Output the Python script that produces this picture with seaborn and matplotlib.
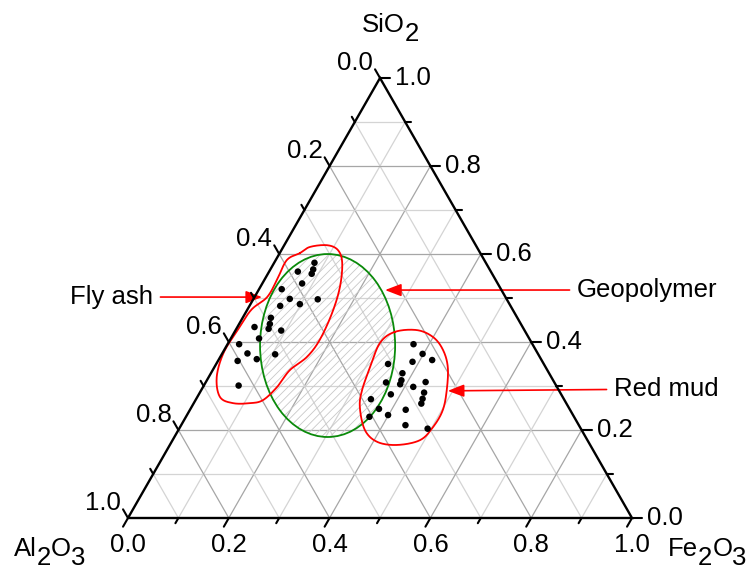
import numpy as np
import pandas as pd
import matplotlib
matplotlib.use("Agg")
import matplotlib.pyplot as plt
import seaborn as sns
from matplotlib.patches import Ellipse

# --- data (mass fractions, Al2O3 = 1 - Fe2O3 - SiO2) ---
fly_fe = [0.080, 0.085, 0.087, 0.057, 0.079, 0.045, 0.072, 0.061, 0.098, 0.128, 0.056,
          0.061, 0.034, 0.064, 0.091, 0.056, 0.023, 0.050, 0.075, 0.106, 0.039, 0.069]
fly_si = [0.580, 0.565, 0.555, 0.560, 0.533, 0.520, 0.498, 0.482, 0.486, 0.497, 0.455,
          0.441, 0.434, 0.430, 0.426, 0.408, 0.395, 0.374, 0.361, 0.372, 0.357, 0.301]

mud_fe = [0.369, 0.398, 0.387, 0.424, 0.341, 0.380, 0.386, 0.388, 0.358, 0.417, 0.436,
          0.381, 0.445, 0.449, 0.452, 0.347, 0.374, 0.364, 0.399, 0.428, 0.445, 0.493]
mud_si = [0.395, 0.373, 0.355, 0.359, 0.350, 0.329, 0.313, 0.304, 0.308, 0.298, 0.309,
          0.281, 0.285, 0.271, 0.260, 0.270, 0.248, 0.230, 0.234, 0.246, 0.211, 0.203]

# region outlines
fly_zone_fe = [0.040, 0.053, 0.085, 0.112, 0.135, 0.158, 0.172, 0.178, 0.172, 0.153, 0.147,
               0.134, 0.112, 0.078, 0.045, 0.016, 0.002, 0.004, 0.008, 0.025, 0.025, 0.022]
fly_zone_si = [0.602, 0.616, 0.620, 0.609, 0.580, 0.525, 0.466, 0.405, 0.366, 0.336, 0.298,
               0.268, 0.261, 0.261, 0.275, 0.320, 0.375, 0.427, 0.473, 0.502, 0.541, 0.586]
mud_zone_fe = [0.318, 0.360, 0.400, 0.434, 0.463, 0.487, 0.502, 0.502, 0.491, 0.451, 0.408,
               0.370, 0.334, 0.319, 0.309, 0.301]
mud_zone_si = [0.423, 0.427, 0.411, 0.382, 0.343, 0.291, 0.245, 0.207, 0.177, 0.166, 0.173,
               0.200, 0.252, 0.291, 0.343, 0.398]
geo_fe, geo_si = 0.200, 0.392
geo_w, geo_h = 0.268, 0.363

ticks = [0.0, 0.2, 0.4, 0.6, 0.8, 1.0]
tick_labels = ["0.0", "0.2", "0.4", "0.6", "0.8", "1.0"]

H = 440 / 504          # triangle height / side in this picture
PX = 1 / 504           # one pixel in data units


def tern(fe, si):
    fe = np.asarray(fe, float)
    si = np.asarray(si, float)
    return fe + si / 2, si * H


def smooth_closed(x, y, n=24):
    pts = np.column_stack([x, y])
    N = len(pts)
    t = np.linspace(0, 1, n, endpoint=False)[:, None]
    segs = []
    for i in range(N):
        p0, p1, p2, p3 = pts[i - 1], pts[i], pts[(i + 1) % N], pts[(i + 2) % N]
        segs.append(0.5 * (2 * p1 + (-p0 + p2) * t + (2 * p0 - 5 * p1 + 4 * p2 - p3) * t ** 2
                           + (-p0 + 3 * p1 - 3 * p2 + p3) * t ** 3))
    out = np.vstack(segs + [segs[0][:1]])
    return out[:, 0], out[:, 1]


sns.set_style("white")
plt.rcParams['font.family'] = ['Liberation Sans', 'DejaVu Sans']
plt.rcParams['text.color'] = 'black'
plt.rcParams['hatch.linewidth'] = 0.6
FS = 18.5

fig = plt.figure(figsize=(7.52, 5.73), dpi=100)
ax = fig.add_axes([128 / 752, 55 / 573, 504 / 752, 440 / 573])
ax.set_xlim(0, 1)
ax.set_ylim(0, H)
ax.axis('off')

# grid
for k in range(1, 10):
    v = k / 10
    col = '#a6a6a6' if k % 2 == 0 else '#d4d4d4'
    for fe_pair, si_pair in [((0, 1 - v), (v, v)), ((v, v), (0, 1 - v)), ((1 - v, 0), (0, 1 - v))]:
        gx, gy = tern(fe_pair, si_pair)
        ax.plot(gx, gy, color=col, lw=0.9, zorder=1)

# geopolymer field
cx, cy = tern(geo_fe, geo_si)
ax.add_patch(Ellipse((cx, cy), geo_w, geo_h, fill=False, hatch='////', edgecolor='#c8c8c8',
                     lw=0, zorder=2))
ax.add_patch(Ellipse((cx, cy), geo_w, geo_h, fill=False, edgecolor='#0a8a0a', lw=1.3, zorder=3))

# fly ash / red mud outlines
for zfe, zsi in [(fly_zone_fe, fly_zone_si), (mud_zone_fe, mud_zone_si)]:
    zx, zy = tern(zfe, zsi)
    sx, sy = smooth_closed(zx, zy)
    ax.plot(sx, sy, color='red', lw=1.3, zorder=3)

# triangle
tx, ty = tern([0, 1, 0, 0], [0, 0, 1, 0])
ax.plot(tx, ty, color='black', lw=1.7, zorder=4, solid_joinstyle='miter', clip_on=False)

# ticks
norm = np.hypot(0.5, H)
dL = np.array([0.5, H]) / norm
dR = np.array([-0.5, H]) / norm
for k in range(11):
    t = k / 10
    L = (10 if k % 2 == 0 else 6) * PX
    # bottom: Fe2O3
    p = np.array([t, 0.0])
    e = p - dL * L
    ax.plot([p[0], e[0]], [p[1], e[1]], color='black', lw=1.5, clip_on=False, zorder=4)
    # right: SiO2
    p = np.array([1 - t / 2, t * H])
    e = p + np.array([L, 0])
    ax.plot([p[0], e[0]], [p[1], e[1]], color='black', lw=1.5, clip_on=False, zorder=4)
    # left: Al2O3
    p = np.array([(1 - t) / 2, (1 - t) * H])
    e = p + dR * L
    ax.plot([p[0], e[0]], [p[1], e[1]], color='black', lw=1.5, clip_on=False, zorder=4)

for t, lab in zip(ticks, tick_labels):
    ax.text(t, -15 * PX, lab, ha='center', va='top', fontsize=FS, clip_on=False)
    ax.text(1 - t / 2 + 15 * PX, t * H, lab, ha='left', va='center', fontsize=FS, clip_on=False)
    ax.text((1 - t) / 2 - 7 * PX, (1 - t) * H + 15 * PX, lab, ha='right', va='center',
            fontsize=FS, clip_on=False)

# sample points
df = pd.concat([
    pd.DataFrame({'Fe2O3': fly_fe, 'SiO2': fly_si, 'Type': 'Fly ash'}),
    pd.DataFrame({'Fe2O3': mud_fe, 'SiO2': mud_si, 'Type': 'Red mud'}),
], ignore_index=True)
df['x'], df['y'] = tern(df['Fe2O3'], df['SiO2'])
sns.scatterplot(data=df, x='x', y='y', color='black', s=22, edgecolor='none', ax=ax,
                legend=False, zorder=5)

# annotations
arrow = dict(arrowstyle='-|>,head_length=0.65,head_width=0.25', color='red', lw=1.2,
             mutation_scale=15, shrinkA=3, shrinkB=0)
ax.annotate('Fly ash', xy=tern(0.015, 0.502), xytext=(153, 573 - 297),
            textcoords='figure pixels', ha='right', va='center', fontsize=FS,
            arrowprops=arrow, annotation_clip=False)
ax.annotate('Geopolymer', xy=tern(0.251, 0.518), xytext=(577, 573 - 290),
            textcoords='figure pixels', ha='left', va='center', fontsize=FS,
            arrowprops=arrow, annotation_clip=False)
ax.annotate('Red mud', xy=tern(0.490, 0.289), xytext=(614, 573 - 389),
            textcoords='figure pixels', ha='left', va='center', fontsize=FS,
            arrowprops=arrow, annotation_clip=False)


# axis titles: digits are full size, only dropped below the baseline
def formula(x_px, y_px, pieces, shift=6.5):
    prev = fig.text(x_px / 752, 1 - y_px / 573, pieces[0][0], ha='left', va='baseline',
                    fontsize=FS)
    prev_low = pieces[0][1]
    for s, low in pieces[1:]:
        dy = -shift if (low and not prev_low) else (shift if (prev_low and not low) else 0)
        prev = ax.annotate(s, xy=(1, 0), xycoords=prev, xytext=(0, dy),
                           textcoords='offset points', ha='left', va='bottom',
                           fontsize=FS, annotation_clip=False)
        prev_low = low


formula(362, 32, [('SiO', False), ('2', True)])
formula(14, 556, [('Al', False), ('2', True), ('O', False), ('3', True)])
formula(668, 556, [('Fe', False), ('2', True), ('O', False), ('3', True)])

fig.savefig('out.png', dpi=100)
